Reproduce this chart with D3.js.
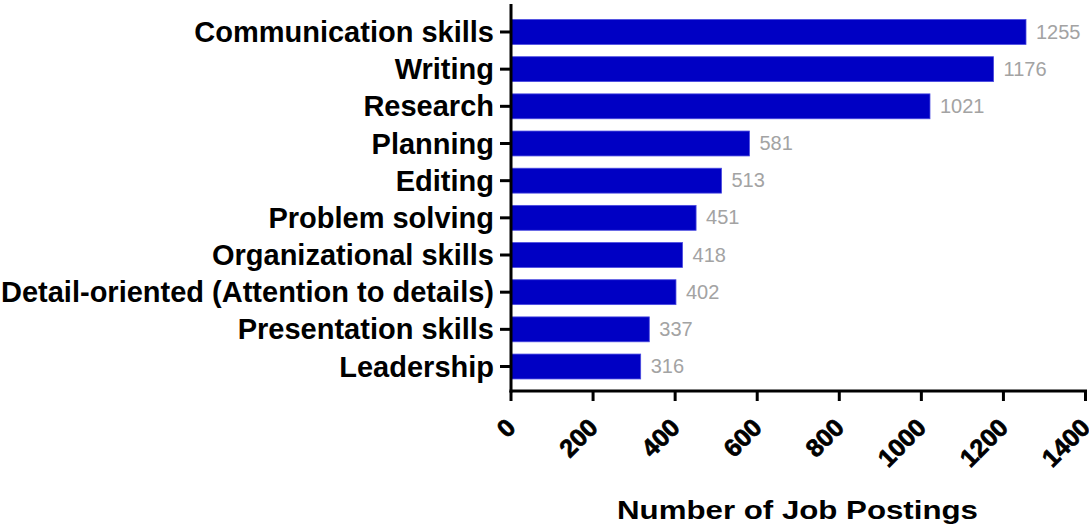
<!DOCTYPE html>
<html>
<head>
<meta charset="utf-8">
<script src="https://cdn.jsdelivr.net/npm/d3@7"></script>
<style>
  html, body { margin: 0; padding: 0; background: #ffffff; }
  svg { display: block; }
</style>
</head>
<body>
<svg id="chart" width="1089" height="525"></svg>
<script>
const categories = [
  "Communication skills",
  "Writing",
  "Research",
  "Planning",
  "Editing",
  "Problem solving",
  "Organizational skills",
  "Detail-oriented (Attention to details)",
  "Presentation skills",
  "Leadership"
];
const values = [1255, 1176, 1021, 581, 513, 451, 418, 402, 337, 316];
const xTicks = [0, 200, 400, 600, 800, 1000, 1200, 1400];
const xTitle = "Number of Job Postings";

const data = categories.map((c, i) => ({ c, v: values[i] }));
const svg = d3.select("#chart");
const font = "'Liberation Sans', Arial, Helvetica, sans-serif";

const x = d3.scaleLinear().domain([0, 1400]).range([511, 1085.5]);
const y = d3.scaleBand().domain(categories).range([13.4, 385.1])
  .paddingInner(0.33).paddingOuter(0.165);

// bars
svg.append("g").selectAll("rect").data(data).join("rect")
  .attr("x", x(0))
  .attr("y", d => y(d.c))
  .attr("width", d => x(d.v) - x(0))
  .attr("height", y.bandwidth())
  .attr("fill", "#0000c4")
  .attr("stroke", "#4a4ae0")
  .attr("stroke-width", 0.8);

// value labels
svg.append("g").selectAll("text").data(data).join("text")
  .attr("x", d => x(d.v) + 10)
  .attr("y", d => y(d.c) + y.bandwidth() / 2)
  .attr("dy", "0.33em")
  .attr("font-family", font)
  .attr("font-size", 20)
  .attr("fill", "#a3a3a3")
  .text(d => d.v);

// y axis
const yAxis = svg.append("g");
yAxis.append("line")
  .attr("x1", 511).attr("x2", 511).attr("y1", 4).attr("y2", 392.5)
  .attr("stroke", "#000").attr("stroke-width", 3);
yAxis.selectAll("line.tick").data(categories).join("line")
  .attr("class", "tick")
  .attr("x1", 500).attr("x2", 511)
  .attr("y1", d => y(d) + y.bandwidth() / 2)
  .attr("y2", d => y(d) + y.bandwidth() / 2)
  .attr("stroke", "#000").attr("stroke-width", 3);
yAxis.selectAll("text").data(categories).join("text")
  .attr("x", 494)
  .attr("y", d => y(d) + y.bandwidth() / 2)
  .attr("dy", "0.35em")
  .attr("text-anchor", "end")
  .attr("font-family", font)
  .attr("font-weight", "bold")
  .attr("font-size", 29)
  .attr("fill", "#000")
  .text(d => d);

// x axis
const xAxis = svg.append("g");
xAxis.append("line")
  .attr("x1", 509.5).attr("x2", 1087).attr("y1", 391).attr("y2", 391)
  .attr("stroke", "#000").attr("stroke-width", 3);
xAxis.selectAll("line.tick").data(xTicks).join("line")
  .attr("class", "tick")
  .attr("x1", d => x(d)).attr("x2", d => x(d))
  .attr("y1", 391).attr("y2", 401)
  .attr("stroke", "#000").attr("stroke-width", 3);
xAxis.selectAll("text").data(xTicks).join("text")
  .attr("transform", d => `translate(${x(d)},423) rotate(-45)`)
  .attr("text-anchor", "end")
  .attr("dy", "0.35em")
  .attr("font-family", font)
  .attr("font-weight", "bold")
  .attr("font-size", 25)
  .attr("fill", "#000")
  .attr("stroke", "#000")
  .attr("stroke-width", 0.7)
  .text(d => d);

// x title (horizontally widened like the reference)
const title = svg.append("text")
  .attr("x", 0)
  .attr("y", 0)
  .attr("text-anchor", "middle")
  .attr("font-family", font)
  .attr("font-weight", "bold")
  .attr("font-size", 25)
  .attr("fill", "#000")
  .text(xTitle);
const w = title.node().getComputedTextLength();
const sx = 361 / w;
title.attr("transform", `translate(797.5,519) scale(${sx},1)`);
</script>
</body>
</html>
